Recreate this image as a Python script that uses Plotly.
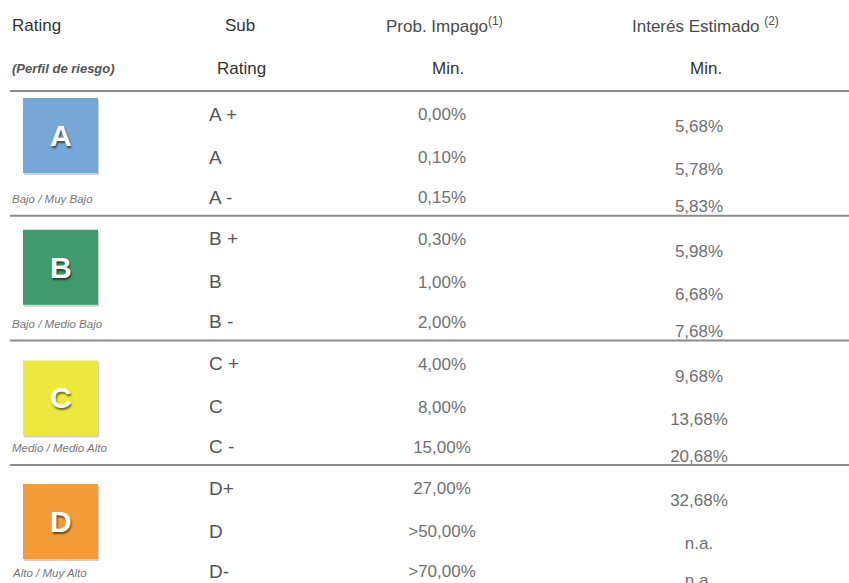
import plotly.graph_objects as go

# ---------------- data ----------------
groups = ["A", "B", "C", "D"]
profiles = ["Bajo / Muy Bajo", "Bajo / Medio Bajo", "Medio / Medio Alto", "Alto / Muy Alto"]
sub_ratings = ["A +", "A", "A -", "B +", "B", "B -", "C +", "C", "C -", "D+", "D", "D-"]
prob_impago = ["0,00%", "0,10%", "0,15%", "0,30%", "1,00%", "2,00%",
               "4,00%", "8,00%", "15,00%", "27,00%", ">50,00%", ">70,00%"]
interes = ["5,68%", "5,78%", "5,83%", "5,98%", "6,68%", "7,68%",
           "9,68%", "13,68%", "20,68%", "32,68%", "n.a.", "n.a."]
headers_1 = ["Rating", "Sub", "Prob. Impago<sup>(1)</sup>", "Interés Estimado <sup>(2)</sup>"]
headers_2 = ["<b><i>(Perfil de riesgo)</i></b>", "Rating", "Min.", "Min."]

# ---------------- style / layout ----------------
W, H = 849, 583
group_colors = ["#76A7D6", "#3F9B6D", "#EDE93B", "#F39C39"]
line_y0 = 91
group_h = 124.7
sub_off = [25, 68, 108]
int_off = [37, 80, 117]
sq_off = [7, 14, 20, 19]
sq_x0, sq_size = 23, 75
x_sub, x_prob, x_int = 209, 442, 699
FONT = "Liberation Sans, Arial, sans-serif"

rows_y = []
rows_int_y = []
for g in range(len(groups)):
    top = line_y0 + g * group_h
    for k in range(3):
        rows_y.append(top + sub_off[k])
        rows_int_y.append(top + int_off[k])

fig = go.Figure()

fig.add_trace(go.Scatter(
    x=[x_sub] * len(sub_ratings), y=rows_y, text=sub_ratings, mode="text",
    textposition="middle right", textfont=dict(family=FONT, size=19, color="#555555"),
    hoverinfo="skip", showlegend=False))
fig.add_trace(go.Scatter(
    x=[x_prob] * len(prob_impago), y=rows_y, text=prob_impago, mode="text",
    textposition="middle center", textfont=dict(family=FONT, size=17, color="#707070"),
    hoverinfo="skip", showlegend=False))
fig.add_trace(go.Scatter(
    x=[x_int] * len(interes), y=rows_int_y, text=interes, mode="text",
    textposition="middle center", textfont=dict(family=FONT, size=17, color="#707070"),
    hoverinfo="skip", showlegend=False))

shapes = []
annotations = []
# separator lines
for g in range(len(groups)):
    y = line_y0 + g * group_h
    shapes.append(dict(type="line", xref="x", yref="y", x0=10, x1=W, y0=y, y1=y,
                       line=dict(color="#8c8c8c", width=2), layer="below"))
# squares
for g, (letter, col, prof) in enumerate(zip(groups, group_colors, profiles)):
    top = line_y0 + g * group_h + sq_off[g]
    shapes.append(dict(type="rect", xref="x", yref="y", x0=sq_x0 + 1, x1=sq_x0 + sq_size + 1,
                       y0=top + 2, y1=top + sq_size + 2, line=dict(width=0),
                       fillcolor="rgba(0,0,0,0.18)", layer="below"))
    shapes.append(dict(type="rect", xref="x", yref="y", x0=sq_x0, x1=sq_x0 + sq_size,
                       y0=top, y1=top + sq_size, line=dict(width=0),
                       fillcolor=col, layer="below"))
    annotations.append(dict(x=sq_x0 + sq_size / 2, y=top + sq_size / 2, xref="x", yref="y",
                            text=f"<b>{letter}</b>", showarrow=False,
                            font=dict(family=FONT, size=30, color="white",
                                      shadow="1px 2px 2px rgba(0,0,0,0.55)")))
    annotations.append(dict(x=10, y=line_y0 + g * group_h + sub_off[2], xref="x", yref="y",
                            text=f"<i>{prof}</i>", showarrow=False, xanchor="left",
                            font=dict(family=FONT, size=11.5, color="#777777")))

# headers
hx = [10, 240, 444, 705]
hx2 = [10, 241, 448, 706]
for i, t in enumerate(headers_1):
    annotations.append(dict(x=hx[i], y=25, xref="x", yref="y", text=t, showarrow=False,
                            xanchor="left" if i == 0 else "center",
                            font=dict(family=FONT, size=17,
                                      color="#333333" if i < 2 else "#4a4a4a")))
for i, t in enumerate(headers_2):
    annotations.append(dict(x=hx2[i], y=68, xref="x", yref="y", text=t, showarrow=False,
                            xanchor="left" if i == 0 else "center",
                            font=dict(family=FONT, size=13 if i == 0 else 17,
                                      color="#555555" if i == 0 else "#333333")))

fig.update_layout(
    width=W, height=H, margin=dict(l=0, r=0, t=0, b=0),
    paper_bgcolor="white", plot_bgcolor="white",
    xaxis=dict(range=[0, W], visible=False, fixedrange=True),
    yaxis=dict(range=[H, 0], visible=False, fixedrange=True),
    shapes=shapes, annotations=annotations,
)

fig.write_html("out.html",
               config={"displayModeBar": False},
               post_script="document.body.style.margin='0';document.body.style.overflow='hidden';")
